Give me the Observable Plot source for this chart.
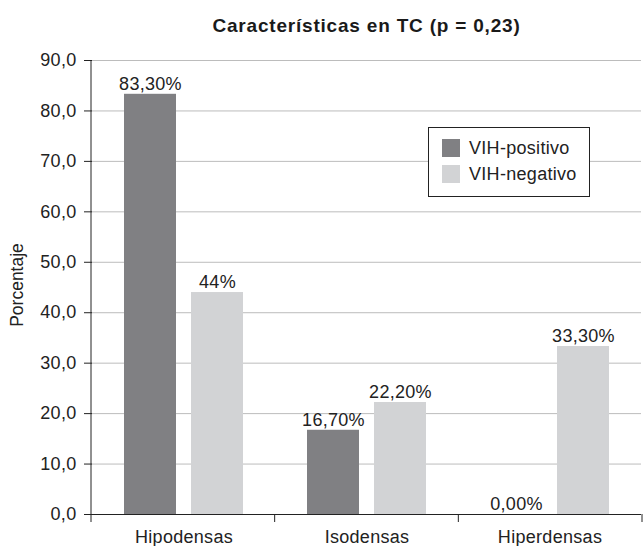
<!DOCTYPE html>
<html><head><meta charset="utf-8">
<script src="https://cdn.jsdelivr.net/npm/d3@7"></script>
<script src="https://cdn.jsdelivr.net/npm/@observablehq/plot@0.6"></script>
<style>
body{margin:0;background:#fff;font-family:"Liberation Sans",Arial,sans-serif;}
#wrap{position:relative;width:643px;height:546px;}
#title{position:absolute;left:91px;width:551px;top:15px;text-align:center;font-weight:bold;font-size:19px;letter-spacing:0.8px;line-height:1.15;color:#1a1a1a;}
#ylab{position:absolute;left:18px;top:285px;transform:translate(-50%,-50%) rotate(-90deg);font-size:17.5px;color:#222;white-space:nowrap;line-height:1;}
#legend{position:absolute;left:428px;top:127px;width:162px;height:70px;border:1.3px solid #222;box-sizing:border-box;background:#fff;padding:7px 0 0 13px;font-size:18px;letter-spacing:0.3px;color:#222;}
#legend .row{display:flex;align-items:center;height:26px;}
#legend .sw{width:18px;height:18px;margin-right:9px;}
</style></head>
<body><div id="wrap"><div id="chart"></div>
<div id="title">Características en TC (p = 0,23)</div>
<div id="ylab">Porcentaje</div>
<div id="legend"></div></div>
<script>
const categories = ["Hipodensas", "Isodensas", "Hiperdensas"];
const series = ["VIH-positivo", "VIH-negativo"];
const positivo = [83.3, 16.7, 0.0];
const negativo = [44.0, 22.2, 33.3];
const labelsPositivo = ["83,30%", "16,70%", "0,00%"];
const labelsNegativo = ["44%", "22,20%", "33,30%"];
const yTicks = [0, 10, 20, 30, 40, 50, 60, 70, 80, 90];
const colors = ["#808083", "#d2d3d5"];

const data = [];
categories.forEach((c, i) => {
  data.push({cat: c, series: series[0], value: positivo[i], label: labelsPositivo[i]});
  data.push({cat: c, series: series[1], value: negativo[i], label: labelsNegativo[i]});
});

const fmt = d => d3.format(".1f")(d).replace(".", ",");

const plot = Plot.plot({
  width: 643, height: 546,
  marginLeft: 91, marginRight: 1, marginTop: 60, marginBottom: 32,
  style: {fontSize: "18px", fontFamily: "'Liberation Sans', Arial, sans-serif", color: "#222", background: "#fff", letterSpacing: "0.3px"},
  fx: {domain: categories, padding: 0, label: null, axis: "bottom", tickSize: 0, tickPadding: 16},
  x: {domain: series, paddingInner: 0.22, paddingOuter: 0.46, axis: null},
  y: {domain: [0, 90], ticks: yTicks, tickFormat: fmt, label: null, tickSize: 8, tickPadding: 8, grid: false},
  color: {domain: series, range: colors},
  marks: [
    Plot.ruleY(yTicks.slice(1), {stroke: "#bcbcbc", strokeWidth: 1}),
    Plot.barY(data, {fx: "cat", x: "series", y: "value", fill: "series"}),
    Plot.text(data, {fx: "cat", x: "series", y: "value", text: "label", dy: -10, fill: "#222"}),
    Plot.ruleY([0], {stroke: "#222", strokeWidth: 1})
  ]
});
document.getElementById("chart").appendChild(plot);

// axis lines and category boundary ticks, positioned from the plot's own scales
const svg = d3.select(plot.tagName.toLowerCase() === "svg" ? plot : plot.querySelector("svg"));
const ys = plot.scale("y");
const fxs = plot.scale("fx");
const fxBand = d3.scaleBand().domain(fxs.domain).range(fxs.range)
  .paddingInner(fxs.paddingInner ?? 0).paddingOuter(fxs.paddingOuter ?? 0).align(fxs.align ?? 0.5);
const y0 = ys.apply(0), yTop = ys.apply(90);
const xLeft = fxs.range[0], xRight = fxs.range[1];
const ga = svg.append("g").attr("stroke", "#222").attr("stroke-width", 1);
ga.append("line").attr("x1", xLeft).attr("x2", xLeft).attr("y1", yTop).attr("y2", y0 + 8);
const edges = categories.map(c => fxBand(c)).concat([xRight]);
edges.slice(1).forEach(e => ga.append("line").attr("x1", e).attr("x2", e).attr("y1", y0).attr("y2", y0 + 8));

const leg = document.getElementById("legend");
series.forEach((s, i) => {
  const r = document.createElement("div"); r.className = "row";
  const sw = document.createElement("div"); sw.className = "sw"; sw.style.background = colors[i];
  const t = document.createElement("span"); t.textContent = s;
  r.appendChild(sw); r.appendChild(t); leg.appendChild(r);
});
</script></body></html>
